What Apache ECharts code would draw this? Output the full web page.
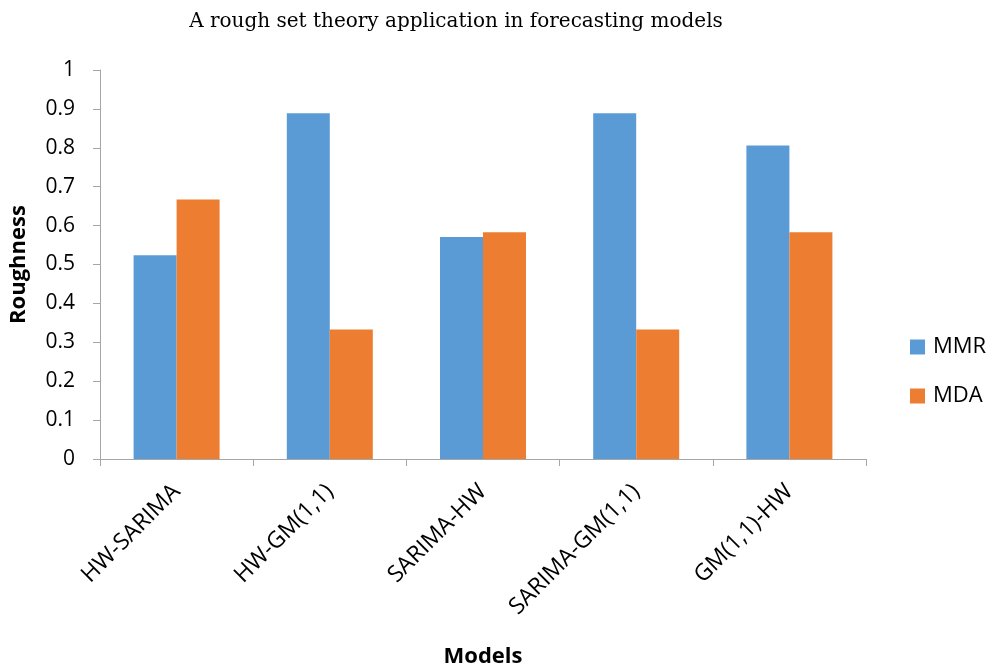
<!DOCTYPE html>
<html>
<head>
<meta charset="utf-8">
<script src="https://cdn.jsdelivr.net/npm/echarts@6/dist/echarts.min.js"></script>
<style>html,body{margin:0;padding:0;background:#fff;}#c{width:999px;height:667px;}</style>
</head>
<body>
<div id="c"></div>
<script>
const categories = ['HW-SARIMA', 'HW-GM(1,1)', 'SARIMA-HW', 'SARIMA-GM(1,1)', 'GM(1,1)-HW'];
const mmr = [0.524, 0.889, 0.571, 0.889, 0.806];
const mda = [0.667, 0.333, 0.583, 0.333, 0.583];
const chart = echarts.init(document.getElementById('c'));
const sans = '"Open Sans", "Liberation Sans", sans-serif';
chart.setOption({
  animation: false,
  title: {
    text: 'A rough set theory application in forecasting models',
    left: 451, top: 7, textAlign: 'center',
    textStyle: { fontFamily: '"DejaVu Serif", "Liberation Serif", serif', fontSize: 20, fontWeight: 'normal', color: '#000' }
  },
  grid: { left: 100, top: 70, right: 133, bottom: 208, containLabel: false, outerBoundsMode: 'none' },
  legend: {
    orient: 'vertical', left: 905, top: 330, itemGap: 25,
    itemWidth: 15, itemHeight: 15, icon: 'rect',
    textStyle: { fontFamily: sans, fontSize: 22, lineHeight: 24, color: '#000', padding: [0, 0, 0, 3] },
    data: ['MMR', 'MDA']
  },
  xAxis: {
    type: 'category', data: categories,
    name: 'Models', nameLocation: 'middle', nameGap: 187,
    nameTextStyle: { fontFamily: sans, fontSize: 22, fontWeight: 'bold', color: '#000' },
    axisLine: { lineStyle: { color: '#a6a6a6', width: 1 } },
    axisTick: { show: true, length: 7, lineStyle: { color: '#a6a6a6' } },
    axisLabel: { rotate: 45, fontFamily: sans, fontSize: 23, color: '#000', margin: 29 }
  },
  yAxis: {
    type: 'value', min: 0, max: 1, interval: 0.1,
    name: 'Roughness', nameLocation: 'middle', nameGap: 70, nameRotate: 90,
    nameTextStyle: { fontFamily: sans, fontSize: 22, fontWeight: 'bold', color: '#000' },
    axisLine: { show: true, lineStyle: { color: '#a6a6a6', width: 1 } },
    axisTick: { show: true, length: 7, lineStyle: { color: '#a6a6a6' } },
    splitLine: { show: false },
    axisLabel: { fontFamily: sans, fontSize: 21, color: '#000', margin: 25,
      formatter: v => (Math.round(v * 10) / 10).toString() }
  },
  series: [
    { name: 'MMR', type: 'bar', data: mmr, barWidth: 43, barGap: '0%', itemStyle: { color: '#5b9bd5' } },
    { name: 'MDA', type: 'bar', data: mda, barWidth: 43, barGap: '0%', itemStyle: { color: '#ed7d31' } }
  ]
});
</script>
</body>
</html>
